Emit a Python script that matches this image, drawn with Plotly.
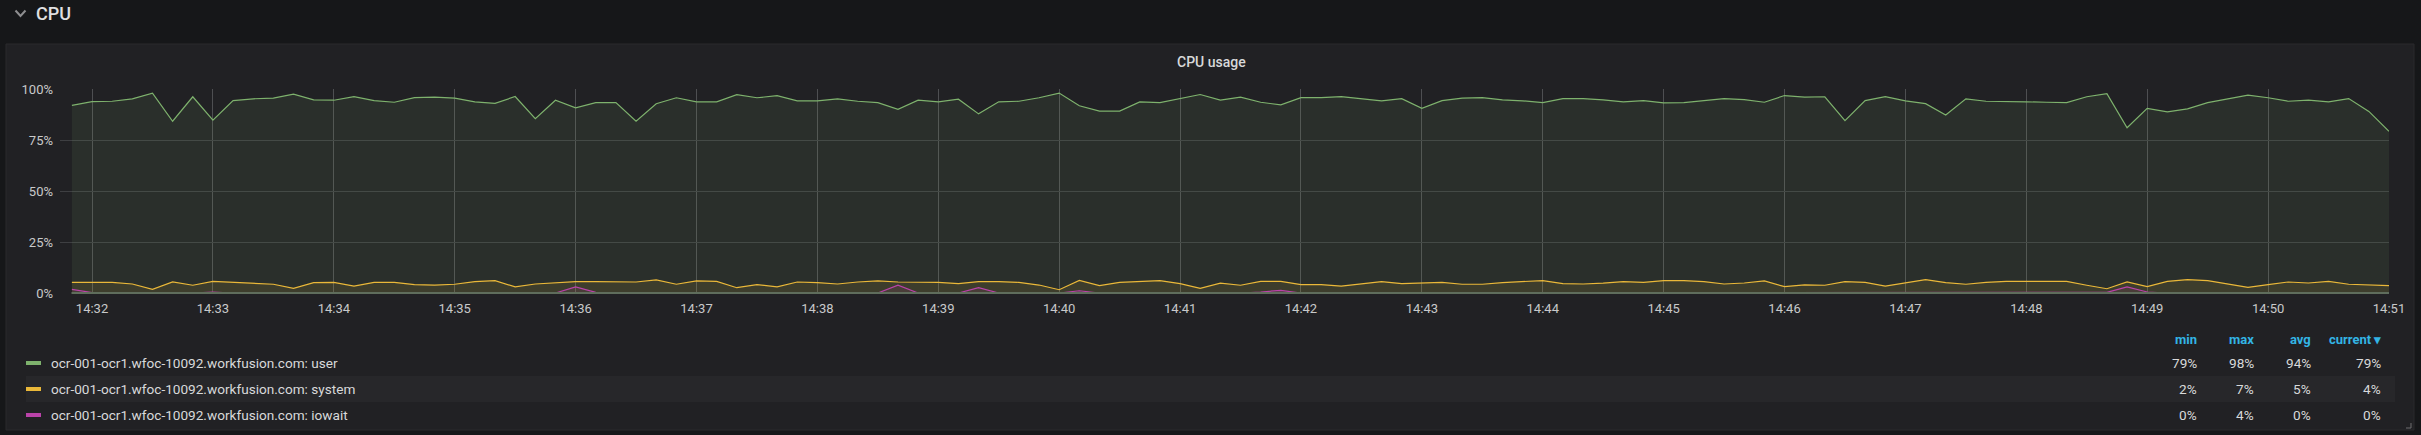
import pandas as pd
import plotly.graph_objects as go

# DATA (10 s samples, 14:31:50 -> 14:51:00)
start_time = "2019-06-10 14:31:50"
host = "ocr-001-ocr1.wfoc-10092.workfusion.com"

user = [92.0,
        93.8, 94.0, 95.2, 98.0, 84.2, 96.2,
        84.7, 94.3, 95.2, 95.5, 97.5, 94.7,
        94.5, 96.3, 94.3, 93.5, 95.8, 96.0,
        95.5, 93.7, 93.0, 96.3, 85.5, 94.5,
        90.8, 93.3, 93.3, 84.2, 92.8, 95.7,
        93.7, 93.7, 97.2, 95.7, 96.7, 94.2,
        94.2, 95.2, 94.0, 93.3, 90.0, 94.5,
        93.7, 95.0, 87.8, 93.7, 94.0, 95.7,
        98.0, 91.8, 89.2, 89.2, 93.7, 93.3,
        95.3, 97.3, 94.6, 96.0, 93.5, 92.2,
        95.8, 95.8, 96.3, 95.3, 94.2, 95.3,
        90.5, 94.3, 95.5, 95.8, 94.7, 94.2,
        93.3, 95.3, 95.3, 94.7, 93.7, 94.3,
        93.2, 93.3, 94.2, 95.3, 94.8, 93.5,
        96.8, 96.0, 96.2, 84.5, 94.3, 96.3,
        94.2, 92.8, 87.3, 95.2, 94.0, 93.7,
        93.7, 93.5, 93.3, 96.2, 97.7, 81.0,
        90.5, 88.8, 90.3, 93.3, 95.2, 97.0,
        95.7, 94.0, 94.5, 93.7, 95.3, 89.0,
        79.3]

system = [5.2,
          5.2, 5.2, 4.4, 1.8, 5.4, 3.8,
          5.7, 5.2, 4.8, 4.3, 2.3, 5.1,
          5.2, 3.4, 5.2, 5.2, 4.1, 3.9,
          4.3, 5.6, 6.1, 3.0, 4.4, 4.9,
          5.6, 5.6, 5.6, 5.4, 6.4, 4.3,
          5.9, 5.7, 2.6, 4.1, 3.0, 5.4,
          5.1, 4.4, 5.4, 5.9, 5.4, 5.2,
          5.2, 4.6, 5.6, 5.6, 5.2, 3.9,
          1.6, 6.2, 3.6, 5.2, 5.6, 6.1,
          4.6, 2.3, 4.8, 3.8, 5.7, 5.7,
          4.1, 4.1, 3.4, 4.6, 5.6, 4.6,
          4.8, 5.2, 4.3, 4.3, 5.1, 5.6,
          6.1, 4.6, 4.4, 4.8, 5.6, 5.2,
          6.1, 6.1, 5.6, 4.4, 4.9, 5.9,
          3.1, 4.0, 3.8, 5.6, 5.2, 3.4,
          5.1, 6.6, 5.1, 4.3, 5.2, 5.7,
          5.7, 5.7, 5.7, 3.8, 2.1, 5.4,
          3.1, 5.7, 6.6, 6.1, 4.3, 2.8,
          4.1, 5.4, 4.9, 5.7, 4.3, 3.9,
          3.6]

iowait = [1.8,
          0.2, 0, 0, 0, 0.3, 0,
          0.5, 0, 0, 0, 0, 0,
          0, 0, 0, 0, 0, 0,
          0, 0.3, 0.3, 0, 0, 0,
          3.0, 0.3, 0, 0, 0, 0,
          0, 0.3, 0, 0, 0, 0,
          0, 0, 0, 0, 3.8, 0,
          0, 0, 2.6, 0, 0, 0,
          0, 1.1, 0, 0, 0, 0,
          0, 0, 0, 0, 0.5, 1.3,
          0, 0, 0, 0, 0, 0,
          0, 0, 0, 0, 0, 0,
          0, 0, 0, 0, 0, 0,
          0, 0, 0, 0, 0, 0,
          0, 0, 0, 0, 0, 0,
          0, 0, 0, 0, 0, 0,
          0, 0, 0, 0, 0.3, 3.0,
          0.5, 0, 0, 0, 0, 0,
          0, 0, 0, 0, 0, 0,
          0]

series_names = ["user", "system", "iowait"]
series_colors = ["#7EB26D", "#EAB839", "#BA43A9"]
fill_colors = ["rgba(126,178,109,0.1)", "rgba(234,184,57,0.1)", "rgba(186,67,169,0.1)"]

stat_headers = ["min", "max", "avg", "current"]
stat_min = ["79%", "2%", "0%"]
stat_max = ["98%", "7%", "4%"]
stat_avg = ["94%", "5%", "0%"]
stat_current = ["79%", "4%", "0%"]

y_ticks = [0, 25, 50, 75, 100]
y_tick_text = ["0%", "25%", "50%", "75%", "100%"]

times = pd.date_range(start_time, periods=len(user), freq="10s")

# page geometry (pixels)
W, H = 2421, 435
L, R, T, B = 60, 32, 89, 142
PW, PH = W - L - R, H - T - B


def px(x):
    return (x - L) / PW


def py(y):
    return (T + PH - y) / PH


fig = go.Figure()

for vals, name, col, fc in zip([user, system, iowait], series_names, series_colors, fill_colors):
    fig.add_trace(go.Scatter(x=times, y=vals, mode="lines", name=host + ": " + name,
                             line=dict(color=col, width=1.2), fill="tozeroy", fillcolor=fc,
                             showlegend=False))

shapes = []
# panel background
shapes.append(dict(type="rect", xref="paper", yref="paper", x0=px(6), x1=px(2414), y0=py(430), y1=py(44),
                   fillcolor="#212124", line=dict(color="#2a2a2d", width=1), layer="below"))
# striped legend row
shapes.append(dict(type="rect", xref="paper", yref="paper", x0=px(26), x1=px(2395), y0=py(402), y1=py(376),
                   fillcolor="#27272a", line=dict(width=0), layer="below"))
# collapse chevron
shapes.append(dict(type="path", xref="paper", yref="paper",
                   path="M %f %f L %f %f L %f %f" % (px(15.5), py(10.5), px(20.5), py(16), px(25.5), py(10.5)),
                   line=dict(color="#8e8e90", width=2)))
# resize handle
shapes.append(dict(type="path", xref="paper", yref="paper",
                   path="M %f %f L %f %f L %f %f" % (px(2406), py(428), px(2411), py(428), px(2411), py(423)),
                   line=dict(color="#6e6e70", width=1)))
# zero line
shapes.append(dict(type="line", xref="paper", yref="paper", x0=px(71.5), x1=1, y0=0, y1=0,
                   line=dict(color="#5f6d5c", width=2)))

annotations = []
annotations.append(dict(text="CPU", xref="paper", yref="paper", x=px(34), y=py(13), xanchor="left",
                        yanchor="middle", showarrow=False,
                        font=dict(size=18, color="#e0e0e2", family="Roboto", weight=500)))
annotations.append(dict(text="CPU usage", xref="paper", yref="paper", x=px(1211.5), y=py(62),
                        xanchor="center", yanchor="middle", showarrow=False,
                        font=dict(size=14, color="#d8d9da", family="Roboto", weight=500)))

# legend table
col_right = [2199, 2256, 2313, 2383]
for hdr, xr in zip(stat_headers, col_right):
    label = "current \u25be" if hdr == "current" else hdr
    annotations.append(dict(text="<b>" + label + "</b>", xref="paper", yref="paper", x=px(xr), y=py(339),
                            xanchor="right", yanchor="middle", showarrow=False,
                            font=dict(size=13, color="#33b5e5", family="Roboto")))

row_y = [363, 389, 415]
for i, name in enumerate(series_names):
    shapes.append(dict(type="rect", xref="paper", yref="paper", x0=px(26), x1=px(41),
                       y0=py(row_y[i] + 2), y1=py(row_y[i] - 2),
                       fillcolor=series_colors[i], line=dict(width=0)))
    annotations.append(dict(text=host + ": " + name, xref="paper", yref="paper", x=px(49), y=py(row_y[i]),
                            xanchor="left", yanchor="middle", showarrow=False,
                            font=dict(size=13.6, color="#d8d9da", family="Roboto")))
    for vals, xr in zip([stat_min, stat_max, stat_avg, stat_current], col_right):
        annotations.append(dict(text=vals[i], xref="paper", yref="paper", x=px(xr), y=py(row_y[i]),
                                xanchor="right", yanchor="middle", showarrow=False,
                                font=dict(size=13.6, color="#d8d9da", family="Roboto")))

fig.update_layout(
    width=W, height=H,
    margin=dict(l=L, r=R, t=T, b=B, pad=0),
    paper_bgcolor="#161719",
    plot_bgcolor="rgba(0,0,0,0)",
    font=dict(family="Roboto", size=13, color="#c8c9ca"),
    shapes=shapes,
    annotations=annotations,
    xaxis=dict(type="date", range=["2019-06-10 14:31:44.1", "2019-06-10 14:51:00"],
               dtick=60000, tick0="2019-06-10 14:32:00", tickformat="%H:%M",
               showgrid=True, gridcolor="#4e4f52", gridwidth=1, zeroline=False,
               showline=False, ticks="", ticklabelstandoff=6,
               tickfont=dict(size=13, color="#c8c9ca")),
    yaxis=dict(range=[0, 100], tickvals=y_ticks, ticktext=y_tick_text,
               showgrid=True, gridcolor="#3e3f42", gridwidth=1, zeroline=False,
               showline=False, ticks="", ticklabelstandoff=6,
               tickfont=dict(size=13, color="#c8c9ca")),
)

# drop the default page margin so the figure sits flush in the window
fig.write_html("out.html", config={"displayModeBar": False},
               post_script="document.body.style.margin='0';document.body.style.overflow='hidden';")
